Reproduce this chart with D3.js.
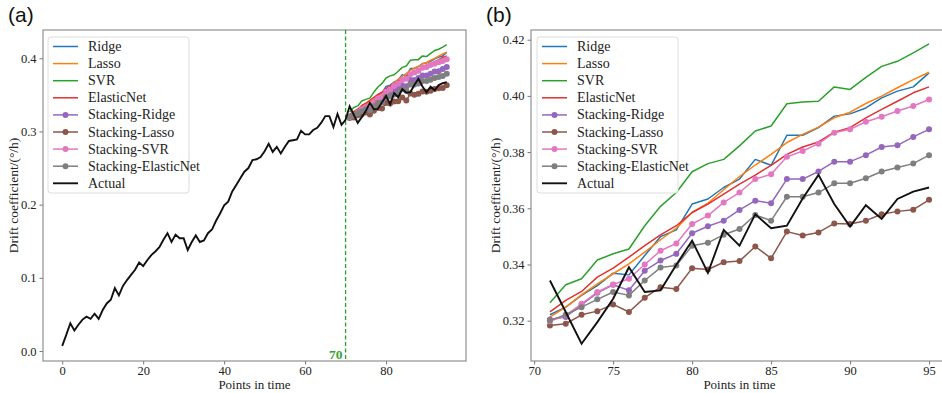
<!DOCTYPE html>
<html>
<head>
<meta charset="utf-8">
<script src="https://cdn.jsdelivr.net/npm/d3@7"></script>
<style>
  html, body { margin: 0; padding: 0; background: #fff; }
  svg { display: block; }
  .tick text { font-family: "Liberation Serif", "Times New Roman", serif; }
</style>
</head>
<body>
<svg id="chart" width="942" height="393"></svg>
<script>
// Time indices of the full record and of the forecast window
const allSteps = d3.range(0, 96);
const forecastSteps = d3.range(71, 96);
const splitPoint = 70;

// Measured drift coefficient (°/h), points 0..95
const actual = [
  0.007, 0.022, 0.038, 0.028, 0.036, 0.043, 0.047, 0.044, 0.051, 0.044,
  0.056, 0.065, 0.070, 0.086, 0.076, 0.089, 0.097, 0.104, 0.111, 0.121,
  0.116, 0.124, 0.131, 0.136, 0.142, 0.152, 0.161, 0.149, 0.159, 0.154,
  0.154, 0.138, 0.149, 0.158, 0.149, 0.151, 0.161, 0.166, 0.178, 0.188,
  0.199, 0.204, 0.218, 0.227, 0.236, 0.245, 0.250, 0.261, 0.262, 0.265,
  0.273, 0.283, 0.272, 0.279, 0.270, 0.279, 0.287, 0.288, 0.289, 0.301,
  0.296, 0.296, 0.302, 0.305, 0.312, 0.321, 0.321, 0.306, 0.324, 0.309,
  0.316,
  0.3343, 0.3231, 0.3118, 0.3195, 0.3278, 0.3390, 0.3302, 0.3308, 0.3399, 0.3485,
  0.3370, 0.3523, 0.3467, 0.3579, 0.3529, 0.3538, 0.3635, 0.3719, 0.3615, 0.3535,
  0.3611, 0.3562, 0.3633, 0.3659, 0.3674
];

// Model predictions for points 71..95
const ridge = [
  0.3221, 0.3248, 0.3290, 0.3325, 0.3369, 0.3363, 0.3432, 0.3499, 0.3523, 0.3615,
  0.3633, 0.3674, 0.3704, 0.3774, 0.3753, 0.3860, 0.3860, 0.3887, 0.3928, 0.3936,
  0.3957, 0.3993, 0.4017, 0.4032, 0.4082
];
const lasso = [
  0.3213, 0.3248, 0.3292, 0.3331, 0.3367, 0.3402, 0.3444, 0.3488, 0.3529, 0.3585,
  0.3618, 0.3666, 0.3713, 0.3754, 0.3792, 0.3834, 0.3863, 0.3889, 0.3922, 0.3942,
  0.3973, 0.3999, 0.4029, 0.4058, 0.4084
];
const svr = [
  0.3264, 0.3328, 0.3349, 0.3416, 0.3438, 0.3455, 0.3538, 0.3607, 0.3656, 0.3730,
  0.3759, 0.3774, 0.3822, 0.3875, 0.3893, 0.3972, 0.3978, 0.3981, 0.4032, 0.4023,
  0.4066, 0.4105, 0.4123, 0.4153, 0.4185
];
const elasticNet = [
  0.3231, 0.3272, 0.3304, 0.3355, 0.3387, 0.3426, 0.3467, 0.3505, 0.3538, 0.3585,
  0.3615, 0.3650, 0.3686, 0.3718, 0.3753, 0.3792, 0.3818, 0.3836, 0.3871, 0.3887,
  0.3922, 0.3952, 0.3981, 0.4011, 0.4032
];
const stackRidge = [
  0.3204, 0.3213, 0.3257, 0.3299, 0.3328, 0.3308, 0.3378, 0.3414, 0.3438, 0.3511,
  0.3536, 0.3556, 0.3594, 0.3627, 0.3618, 0.3704, 0.3704, 0.3731, 0.3766, 0.3766,
  0.3789, 0.3818, 0.3824, 0.3854, 0.3881
];
const stackLasso = [
  0.3183, 0.3189, 0.3221, 0.3234, 0.3258, 0.3231, 0.3282, 0.3319, 0.3313, 0.3387,
  0.3382, 0.3408, 0.3412, 0.3464, 0.3422, 0.3517, 0.3503, 0.3514, 0.3546, 0.3544,
  0.3556, 0.3579, 0.3589, 0.3595, 0.3630
];
const stackSvr = [
  0.3198, 0.3219, 0.3260, 0.3302, 0.3329, 0.3349, 0.3400, 0.3449, 0.3475, 0.3544,
  0.3574, 0.3621, 0.3656, 0.3704, 0.3721, 0.3783, 0.3804, 0.3830, 0.3869, 0.3881,
  0.3908, 0.3926, 0.3946, 0.3964, 0.3987
];
const stackElasticNet = [
  0.3201, 0.3221, 0.3248, 0.3276, 0.3302, 0.3290, 0.3343, 0.3389, 0.3396, 0.3467,
  0.3477, 0.3506, 0.3526, 0.3576, 0.3556, 0.3641, 0.3641, 0.3656, 0.3689, 0.3689,
  0.3707, 0.3731, 0.3745, 0.3759, 0.3789
];

// Tick values
const xTicksA = [0, 20, 40, 60, 80];
const yTicksA = [0.0, 0.1, 0.2, 0.3, 0.4];
const xTicksB = [70, 75, 80, 85, 90, 95];
const yTicksB = [0.32, 0.34, 0.36, 0.38, 0.40, 0.42];

// Series definitions: name, values, colour, whether drawn with markers
const seriesDefs = [
  { name: "Ridge", values: ridge, color: "#1f77b4", marker: false },
  { name: "Lasso", values: lasso, color: "#ff7f0e", marker: false },
  { name: "SVR", values: svr, color: "#2ca02c", marker: false },
  { name: "ElasticNet", values: elasticNet, color: "#e03030", marker: false },
  { name: "Stacking-Ridge", values: stackRidge, color: "#9467bd", marker: true },
  { name: "Stacking-Lasso", values: stackLasso, color: "#8c564b", marker: true },
  { name: "Stacking-SVR", values: stackSvr, color: "#e377c2", marker: true },
  { name: "Stacking-ElasticNet", values: stackElasticNet, color: "#7f7f7f", marker: true }
];

const SERIF = '"Liberation Serif", "Times New Roman", serif';
const svg = d3.select("#chart");

function drawPanel(opts) {
  const { left, right, top, bottom, xDomain, yDomain, xTicks, yTicks, yFormat,
          actualX, actualY, panelLabel, labelX, yLabelX, legendX, showSplit } = opts;

  const x = d3.scaleLinear().domain(xDomain).range([left, right]);
  const y = d3.scaleLinear().domain(yDomain).range([bottom, top]);
  const g = svg.append("g");

  // Axes
  const xAxis = d3.axisBottom(x).tickValues(xTicks).tickSize(3.5).tickPadding(2).tickFormat(d3.format("d"));
  const yAxis = d3.axisLeft(y).tickValues(yTicks).tickSize(3.5).tickPadding(3).tickFormat(d3.format(yFormat));

  const gx = g.append("g").attr("transform", `translate(0,${bottom})`).call(xAxis);
  const gy = g.append("g").attr("transform", `translate(${left},0)`).call(yAxis);
  [gx, gy].forEach(ax => {
    ax.select(".domain").remove();
    ax.selectAll(".tick line").attr("stroke", "#666").attr("stroke-width", 0.9);
    ax.selectAll(".tick text").attr("fill", "#222").style("font-size", "12.5px");
  });

  // Frame
  g.append("rect")
    .attr("x", left).attr("y", top)
    .attr("width", right - left).attr("height", bottom - top)
    .attr("fill", "none").attr("stroke", "#888").attr("stroke-width", 1.1);

  const plot = g.append("g");
  const line = d3.line().x(d => x(d[0])).y(d => y(d[1]));

  // Split marker
  if (showSplit) {
    plot.append("line")
      .attr("x1", x(splitPoint)).attr("x2", x(splitPoint))
      .attr("y1", top).attr("y2", bottom)
      .attr("stroke", "#2ca02c").attr("stroke-width", 1.3)
      .attr("stroke-dasharray", "4,2.5");
    plot.append("text")
      .attr("x", x(splitPoint) - 3).attr("y", bottom - 2.5)
      .attr("text-anchor", "end")
      .attr("fill", "#3aa23a")
      .style("font-family", SERIF).style("font-size", "13.5px")
      .style("font-weight", "bold")
      .text(String(splitPoint));
  }

  // Model predictions
  seriesDefs.forEach(s => {
    const pts = forecastSteps.map((t, i) => [t, s.values[i]]);
    plot.append("path").datum(pts)
      .attr("d", line).attr("fill", "none")
      .attr("stroke", s.color).attr("stroke-width", 1.5)
      .attr("stroke-linejoin", "round");
    if (s.marker) {
      plot.append("g").selectAll("circle").data(pts).join("circle")
        .attr("cx", d => x(d[0])).attr("cy", d => y(d[1]))
        .attr("r", 3).attr("fill", s.color);
    }
  });

  // Measured values
  const actualPts = actualX.map(t => [t, actualY[t]]);
  plot.append("path").datum(actualPts)
    .attr("d", line).attr("fill", "none")
    .attr("stroke", "#111").attr("stroke-width", 1.9)
    .attr("stroke-linejoin", "miter");

  // Axis titles
  g.append("text")
    .attr("x", (left + Math.min(right, 942)) / 2 + (opts.xLabelShift || 0)).attr("y", 389)
    .attr("text-anchor", "middle").attr("fill", "#222")
    .style("font-family", SERIF).style("font-size", "13px")
    .text("Points in time");
  g.append("text")
    .attr("transform", `translate(${yLabelX},${(top + bottom) / 2}) rotate(-90)`)
    .attr("text-anchor", "middle").attr("fill", "#222")
    .style("font-family", SERIF).style("font-size", "13.5px")
    .text("Drift coefficient/(°/h)");

  // Panel label
  g.append("text")
    .attr("x", labelX).attr("y", 22)
    .attr("fill", "#111")
    .style("font-family", '"Liberation Sans", Arial, sans-serif').style("font-size", "21px")
    .text(panelLabel);

  // Legend
  const legendItems = seriesDefs.concat([{ name: "Actual", color: "#111", marker: false, actual: true }]);
  const lg = g.append("g").attr("transform", `translate(${legendX},37)`);
  lg.append("rect")
    .attr("x", 0).attr("y", 0).attr("width", 141).attr("height", 156)
    .attr("rx", 3).attr("fill", "#fff").attr("fill-opacity", 0.85)
    .attr("stroke", "#ddd").attr("stroke-width", 1);
  legendItems.forEach((s, i) => {
    const yy = 9.5 + i * 17.1;
    lg.append("line")
      .attr("x1", 5).attr("x2", 30).attr("y1", yy).attr("y2", yy)
      .attr("stroke", s.color).attr("stroke-width", s.actual ? 1.9 : 1.5);
    if (s.marker) {
      lg.append("circle").attr("cx", 17.5).attr("cy", yy).attr("r", 3).attr("fill", s.color);
    }
    lg.append("text")
      .attr("x", 40).attr("y", yy + 4.5)
      .attr("fill", "#222")
      .style("font-family", SERIF).style("font-size", "14px")
      .text(s.name);
  });
}

// Panel (a): full record with forecasts
drawPanel({
  left: 43, right: 466, top: 30, bottom: 361,
  xDomain: [-4.75, 99.75], yDomain: [-0.0136, 0.4386],
  xTicks: xTicksA, yTicks: yTicksA, yFormat: ".1f",
  actualX: allSteps, actualY: actual,
  panelLabel: "(a)", labelX: 8, yLabelX: 18, legendX: 48,
  showSplit: true
});

// Panel (b): forecast window
drawPanel({
  left: 531, right: 948, top: 30, bottom: 361,
  xDomain: [69.8, 96.2], yDomain: [0.30565, 0.42345],
  xTicks: xTicksB, yTicks: yTicksB, yFormat: ".2f",
  actualX: forecastSteps, actualY: actual,
  panelLabel: "(b)", labelX: 486, yLabelX: 500, legendX: 537,
  showSplit: false, xLabelShift: 3
});
</script>
</body>
</html>
